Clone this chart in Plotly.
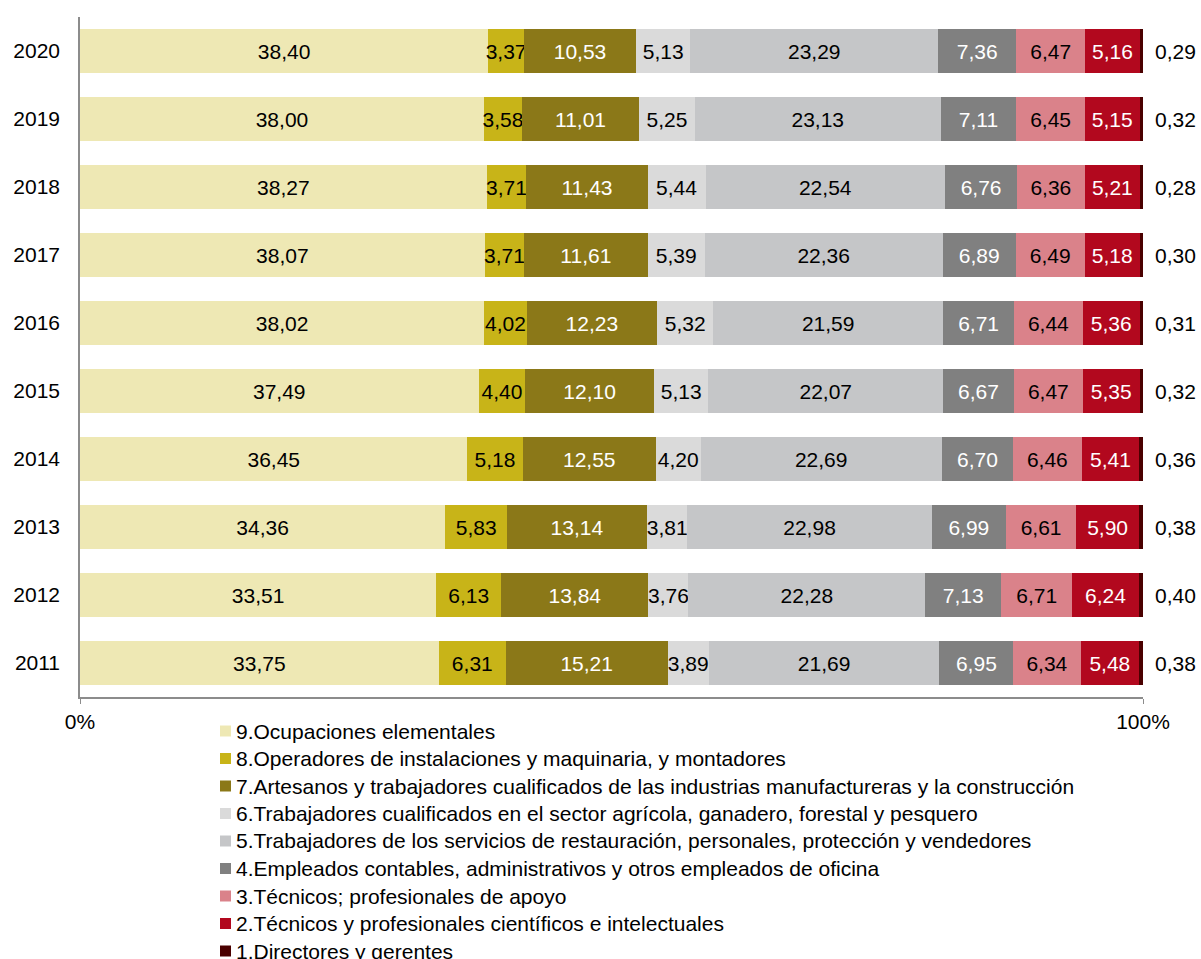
import plotly.graph_objects as go

years = ["2011", "2012", "2013", "2014", "2015", "2016", "2017", "2018", "2019", "2020"]

series_names = [
    "9.Ocupaciones elementales",
    "8.Operadores de instalaciones y maquinaria, y montadores",
    "7.Artesanos y trabajadores cualificados de las industrias manufactureras y la construcción",
    "6.Trabajadores cualificados en el sector agrícola, ganadero, forestal y pesquero",
    "5.Trabajadores de los servicios de restauración, personales, protección y vendedores",
    "4.Empleados contables, administrativos y otros empleados de oficina",
    "3.Técnicos; profesionales de apoyo",
    "2.Técnicos y profesionales científicos e intelectuales",
    "1.Directores y gerentes",
]

# values per series, in the order of `years` (2011 -> 2020)
s9 = [33.75, 33.51, 34.36, 36.45, 37.49, 38.02, 38.07, 38.27, 38.00, 38.40]
s8 = [6.31, 6.13, 5.83, 5.18, 4.40, 4.02, 3.71, 3.71, 3.58, 3.37]
s7 = [15.21, 13.84, 13.14, 12.55, 12.10, 12.23, 11.61, 11.43, 11.01, 10.53]
s6 = [3.89, 3.76, 3.81, 4.20, 5.13, 5.32, 5.39, 5.44, 5.25, 5.13]
s5 = [21.69, 22.28, 22.98, 22.69, 22.07, 21.59, 22.36, 22.54, 23.13, 23.29]
s4 = [6.95, 7.13, 6.99, 6.70, 6.67, 6.71, 6.89, 6.76, 7.11, 7.36]
s3 = [6.34, 6.71, 6.61, 6.46, 6.47, 6.44, 6.49, 6.36, 6.45, 6.47]
s2 = [5.48, 6.24, 5.90, 5.41, 5.35, 5.36, 5.18, 5.21, 5.15, 5.16]
s1 = [0.38, 0.40, 0.38, 0.36, 0.32, 0.31, 0.30, 0.28, 0.32, 0.29]

series_values = [s9, s8, s7, s6, s5, s4, s3, s2, s1]

colors = ["#EEE8B4", "#C8B418", "#8B7818", "#DADADA", "#C5C6C8",
          "#808080", "#DA828A", "#B2081E", "#4A0000"]
label_colors = ["black", "black", "white", "black", "black",
                "white", "black", "white", "black"]

FONT = "Liberation Sans, Arial, sans-serif"
FS = 21

W, H = 1201, 959
ML, MT = 80, 17
PW, PH = 1063, 680
MR, MB = W - ML - PW, H - MT - PH

fig = go.Figure()
for i, (name, vals) in enumerate(zip(series_names, series_values)):
    last = (i == len(series_names) - 1)
    fig.add_trace(go.Bar(
        y=years, x=vals, name=name, orientation="h",
        marker=dict(color=colors[i], line=dict(width=0)),
        texttemplate=None if last else "%{x:.2f}",
        textposition="none" if last else "inside",
        insidetextanchor="middle",
        constraintext="none",
        textangle=0,
        textfont=dict(family=FONT, size=FS, color=label_colors[i]),
        hoverinfo="skip",
        showlegend=False,
    ))

# value labels of the last series, placed outside the bar end
for idx, v in enumerate(s1):
    fig.add_annotation(
        x=100, y=idx, xref="x", yref="y", text=f"{v:.2f}".replace(".", ","),
        showarrow=False, xanchor="left", xshift=10,
        font=dict(family=FONT, size=FS, color="black"),
    )

# legend (drawn below the plot, one row per series)
LEG_X0 = 220      # px, left of the colour square
LEG_Y0 = 731      # px, centre of first row
LEG_DY = 27.5     # px, row spacing
SQ = 11           # px, square size
for i, name in enumerate(series_names):
    cy = LEG_Y0 + i * LEG_DY
    fig.add_shape(
        type="rect", xref="paper", yref="paper",
        x0=(LEG_X0 - ML) / PW, x1=(LEG_X0 + SQ - ML) / PW,
        y0=(H - MB - (cy - SQ / 2)) / PH, y1=(H - MB - (cy + SQ / 2)) / PH,
        fillcolor=colors[i], line=dict(width=0), layer="above",
    )
    fig.add_annotation(
        x=(LEG_X0 + SQ + 3 - ML) / PW, y=(H - MB - cy) / PH,
        xref="paper", yref="paper", text=name, showarrow=False,
        xanchor="left", yanchor="middle",
        font=dict(family=FONT, size=FS, color="black"),
    )

fig.update_layout(
    width=W, height=H,
    margin=dict(l=ML, r=MR, t=MT, b=MB, autoexpand=False),
    barmode="stack", bargap=0.35,
    separators=",.",
    paper_bgcolor="white", plot_bgcolor="white",
    font=dict(family=FONT, size=FS, color="black"),
    showlegend=False,
    xaxis=dict(
        range=[0, 100], tickvals=[0, 100], ticktext=["0%", "100%"],
        showgrid=False, zeroline=False, automargin=False,
        showline=True, linecolor="#8C8C8C", linewidth=1.5,
        ticks="outside", ticklen=5, tickcolor="#8C8C8C",
        tickfont=dict(family=FONT, size=FS, color="black"),
    ),
    yaxis=dict(
        type="category", categoryorder="array", categoryarray=years,
        range=[-0.5, len(years) - 0.5], automargin=False,
        showgrid=False, zeroline=False,
        showline=True, linecolor="#8C8C8C", linewidth=1.5,
        ticks="", ticklabelstandoff=14,
        tickfont=dict(family=FONT, size=FS, color="black"),
    ),
)

fig.write_html(
    "out.html",
    config={"displayModeBar": False},
    post_script="document.body.style.margin='0';document.body.style.overflow='hidden';",
)
